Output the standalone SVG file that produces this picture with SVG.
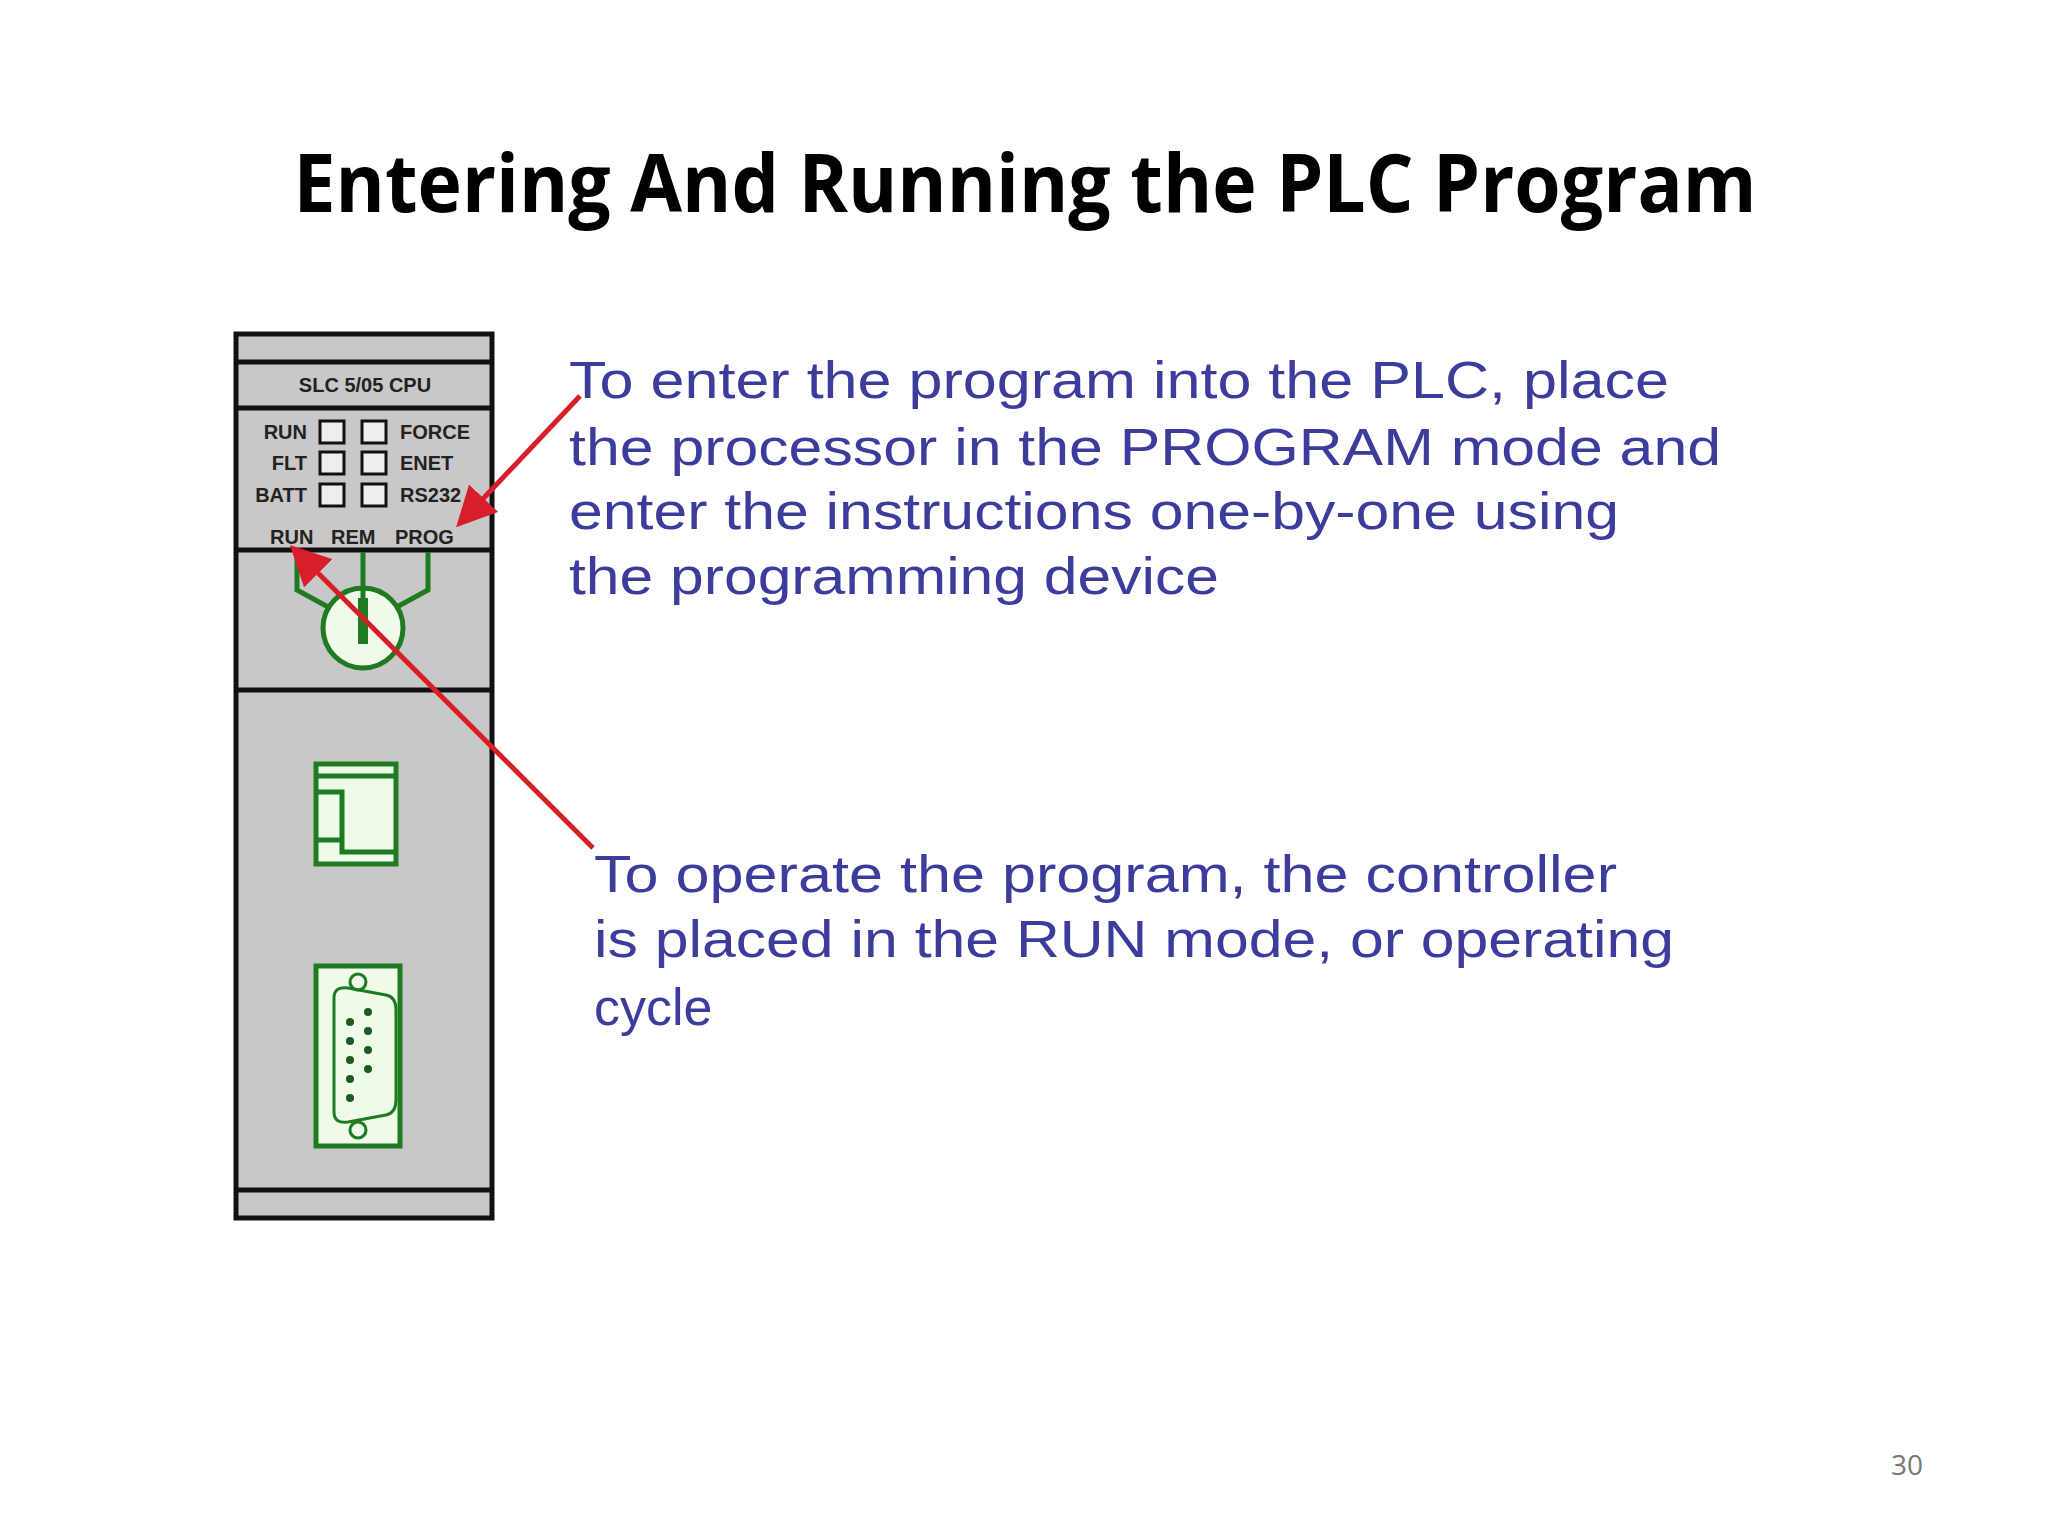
<svg xmlns="http://www.w3.org/2000/svg" width="2048" height="1536" viewBox="0 0 2048 1536">
<style>
.t{font-family:"Liberation Sans",Arial,sans-serif;font-size:52px;fill:#3b3c9c}
.p{font-family:"Liberation Sans",Arial,sans-serif;font-weight:bold;fill:#222;font-size:20px}
.g{fill:none;stroke:#1f7a22;stroke-width:5}
.gf{fill:#eefbe8;stroke:#1f7a22;stroke-width:5}
.k{fill:none;stroke:#111;stroke-width:5}
.r{stroke:#d81e2a;stroke-width:5;fill:none}
</style>
<defs><marker id="ah" markerWidth="8" markerHeight="8" refX="6" refY="4" orient="auto" markerUnits="strokeWidth"><path d="M0,0 L8,4 L0,8 z" fill="#d81e2a"/></marker></defs>
<rect width="2048" height="1536" fill="#fff"/>
<text x="1025" y="212" text-anchor="middle" font-family="'Open Sans','Liberation Sans',sans-serif" font-weight="bold" font-size="80" fill="#000" textLength="1463" lengthAdjust="spacingAndGlyphs">Entering And Running the PLC Program</text>
<g id="plc">
<rect x="236" y="334" width="256" height="884" style="fill:#c8c8c8;stroke:#111;stroke-width:5"/>
<line x1="236" y1="362" x2="492" y2="362" class="k"/>
<line x1="236" y1="408" x2="492" y2="408" class="k"/>
<line x1="236" y1="550" x2="492" y2="550" class="k"/>
<line x1="236" y1="690" x2="492" y2="690" class="k"/>
<line x1="236" y1="1190" x2="492" y2="1190" class="k"/>
<text x="365" y="392" text-anchor="middle" class="p">SLC 5/05 CPU</text>
<g class="p">
<text x="307" y="439" text-anchor="end">RUN</text>
<text x="307" y="470" text-anchor="end">FLT</text>
<text x="307" y="502" text-anchor="end">BATT</text>
<text x="400" y="439">FORCE</text>
<text x="400" y="470">ENET</text>
<text x="400" y="502">RS232</text>
<text x="270" y="544">RUN</text>
<text x="331" y="544">REM</text>
<text x="395" y="544">PROG</text>
</g>
<g fill="#eee" stroke="#111" stroke-width="3">
<rect x="320" y="421" width="24" height="22"/><rect x="362" y="421" width="24" height="22"/>
<rect x="320" y="452" width="24" height="22"/><rect x="362" y="452" width="24" height="22"/>
<rect x="320" y="484" width="24" height="22"/><rect x="362" y="484" width="24" height="22"/>
</g>
</g>
<g id="keyswitch">
<circle cx="363" cy="628" r="40" class="gf"/>
<path d="M297 552 V590 L330 608 M363 552 V598 M428 552 V590 L395 608" class="g"/>
<line x1="363" y1="598" x2="363" y2="644" stroke="#1f7a22" stroke-width="10"/>
</g>
<g id="ethernet">
<rect x="316" y="764" width="80" height="100" class="gf"/>
<path d="M316 776 H396 M316 792 H342 V840 H316 M342 840 V852 H396" class="g"/>
</g>
<g id="serial">
<rect x="316" y="966" width="84" height="180" class="gf"/>
<circle cx="358" cy="982" r="8" class="g" style="stroke-width:3"/>
<circle cx="358" cy="1130" r="8" class="g" style="stroke-width:3"/>
<path d="M334 998 Q334 986 348 988 L386 995 Q396 997 396 1010 V1100 Q396 1113 386 1115 L348 1122 Q334 1124 334 1112 Z" class="g" style="stroke-width:3"/>
<g fill="#1f5a22"><circle cx="350" cy="1022" r="4"/><circle cx="350" cy="1041" r="4"/><circle cx="350" cy="1060" r="4"/><circle cx="350" cy="1079" r="4"/><circle cx="350" cy="1098" r="4"/><circle cx="368" cy="1012" r="4"/><circle cx="368" cy="1031" r="4"/><circle cx="368" cy="1050" r="4"/><circle cx="368" cy="1069" r="4"/></g>
</g>
<g id="connectors">
<line x1="580" y1="396" x2="463" y2="520" class="r" marker-end="url(#ah)"/>
<line x1="593" y1="848" x2="297" y2="552" class="r" marker-end="url(#ah)"/>
</g>
<g id="text1" class="t">
<text x="569" y="398" textLength="1100" lengthAdjust="spacingAndGlyphs">To enter the program into the PLC, place</text>
<text x="569" y="465" textLength="1152" lengthAdjust="spacingAndGlyphs">the processor in the PROGRAM mode and</text>
<text x="569" y="529" textLength="1050" lengthAdjust="spacingAndGlyphs">enter the instructions one-by-one using</text>
<text x="569" y="594" textLength="650" lengthAdjust="spacingAndGlyphs">the programming device</text>
</g>
<g id="text2" class="t">
<text x="594" y="892" textLength="1023" lengthAdjust="spacingAndGlyphs">To operate the program, the controller</text>
<text x="594" y="957" textLength="1080" lengthAdjust="spacingAndGlyphs">is placed in the RUN mode, or operating</text>
<text x="594" y="1025">cycle</text>
</g>
<text x="1907" y="1475" text-anchor="middle" font-family="'Open Sans','Liberation Sans',sans-serif" font-size="28" fill="#777">30</text>
</svg>
